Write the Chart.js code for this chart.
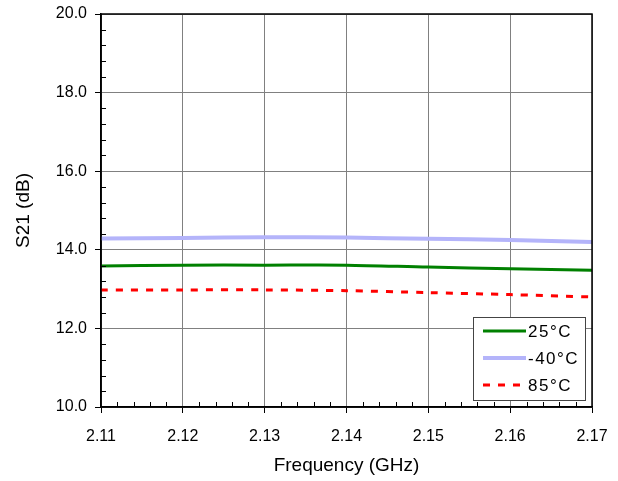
<!DOCTYPE html>
<html>
<head>
<meta charset="utf-8">
<script src="https://cdn.jsdelivr.net/npm/chart.js@4.4.0/dist/chart.umd.min.js"></script>
<style>
  html, body { margin: 0; padding: 0; background: #fff; }
  #wrap { width: 618px; height: 481px; }
</style>
</head>
<body>
<div id="wrap"><canvas id="s21Chart" width="618" height="481"></canvas></div>
<script>
// frequency points (GHz)
const freqs = [2.11, 2.12, 2.13, 2.14, 2.15, 2.16, 2.17];
// S21 (dB) per temperature
const s21_25C  = [13.59, 13.61, 13.61, 13.61, 13.56, 13.52, 13.48];
const s21_m40C = [14.29, 14.30, 14.32, 14.31, 14.28, 14.25, 14.20];
const s21_85C  = [12.98, 12.98, 12.98, 12.96, 12.91, 12.86, 12.80];
const seriesLabels = ['25°C', '-40°C', '85°C'];

const FONT = "'Liberation Sans', Arial, sans-serif";

function pts(vals) {
    return freqs.map(function(f, i) { return { x: f, y: vals[i] }; });
}

// minor ticks inside the plot + frame + legend box
const extras = {
    id: 'extras',
    afterDraw(chart) {
        const ctx = chart.ctx;
        const a = chart.chartArea;
        const xs = chart.scales.x, ys = chart.scales.y;
        ctx.save();
        ctx.strokeStyle = '#000';
        ctx.lineWidth = 1;
        ctx.beginPath();
        for (let i = 0; i <= 30; i++) {
            if (i % 5 === 0) continue;
            const px = Math.round(xs.getPixelForValue(2.11 + i * 0.002)) + 0.5;
            ctx.moveTo(px, a.bottom);
            ctx.lineTo(px, a.bottom - 5);
        }
        for (let i = 0; i <= 25; i++) {
            if (i % 5 === 0) continue;
            const py = Math.round(ys.getPixelForValue(10 + i * 0.4)) + 0.5;
            ctx.moveTo(a.left, py);
            ctx.lineTo(a.left + 5, py);
        }
        ctx.stroke();
        // frame
        ctx.lineWidth = 1.5;
        ctx.strokeRect(a.left, a.top, a.right - a.left, a.bottom - a.top);

        // legend
        const bx = 473, by = 317, bw = 112, bh = 83;
        ctx.fillStyle = '#fff';
        ctx.fillRect(bx, by, bw, bh);
        ctx.strokeStyle = '#444';
        ctx.lineWidth = 1;
        ctx.strokeRect(bx + 0.5, by + 0.5, bw, bh);
        ctx.font = '17px ' + FONT;
        ctx.letterSpacing = '1.5px';
        ctx.textBaseline = 'middle';
        ctx.textAlign = 'left';
        chart.data.datasets.forEach(function(ds, i) {
            const y = by + 14 + i * 27;
            ctx.strokeStyle = ds.borderColor;
            ctx.lineWidth = ds.borderWidth;
            ctx.setLineDash(ds.borderDash || []);
            ctx.beginPath();
            ctx.moveTo(bx + 10, y);
            ctx.lineTo(bx + 53, y);
            ctx.stroke();
            ctx.setLineDash([]);
            ctx.fillStyle = '#000';
            ctx.fillText(ds.label, bx + 55, y + 1);
        });
        ctx.restore();
    }
};

const ctx = document.getElementById('s21Chart').getContext('2d');
const s21Chart = new Chart(ctx, {
    type: 'line',
    data: {
        datasets: [{
            label: seriesLabels[0],
            data: pts(s21_25C),
            borderColor: '#008000',
            borderWidth: 3,
            pointRadius: 0,
            tension: 0.3
        }, {
            label: seriesLabels[1],
            data: pts(s21_m40C),
            borderColor: '#b4b4fa',
            borderWidth: 4,
            pointRadius: 0,
            tension: 0.3
        }, {
            label: seriesLabels[2],
            data: pts(s21_85C),
            borderColor: '#ff0000',
            borderWidth: 3,
            borderDash: [7, 8],
            pointRadius: 0,
            tension: 0.3
        }]
    },
    options: {
        responsive: false,
        animation: false,
        layout: { padding: { left: 0, top: 14, right: 26, bottom: 0 } },
        plugins: {
            legend: { display: false },
            tooltip: { enabled: false }
        },
        scales: {
            x: {
                type: 'linear',
                min: 2.11,
                max: 2.17,
                ticks: {
                    stepSize: 0.01,
                    color: '#000',
                    font: { family: FONT, size: 16 },
                    padding: 14,
                    maxRotation: 0,
                    callback: function(v) { return v.toFixed(2); }
                },
                grid: { color: '#808080', lineWidth: 1, tickLength: 6, tickColor: '#000' },
                border: { color: '#000', width: 1.5 },
                title: {
                    display: true,
                    text: 'Frequency (GHz)',
                    color: '#000',
                    font: { family: FONT, size: 19 },
                    padding: { top: 0, bottom: 4 }
                },
                afterFit: function(s) {
                    s.height = 74;
                    s.paddingLeft = 0;
                    s.paddingRight = 0;
                }
            },
            y: {
                min: 10,
                max: 20,
                ticks: {
                    stepSize: 2,
                    color: '#000',
                    font: { family: FONT, size: 16 },
                    padding: 8,
                    callback: function(v) { return v.toFixed(1); }
                },
                grid: { color: '#808080', lineWidth: 1, tickLength: 6, tickColor: '#000' },
                border: { color: '#000', width: 1.5 },
                title: {
                    display: true,
                    text: 'S21 (dB)',
                    color: '#000',
                    font: { family: FONT, size: 19 },
                    padding: { top: 12, bottom: 0 }
                },
                afterFit: function(s) {
                    s.width = 101;
                    s.paddingTop = 0;
                    s.paddingBottom = 0;
                }
            }
        }
    },
    plugins: [extras]
});
</script>
</body>
</html>
